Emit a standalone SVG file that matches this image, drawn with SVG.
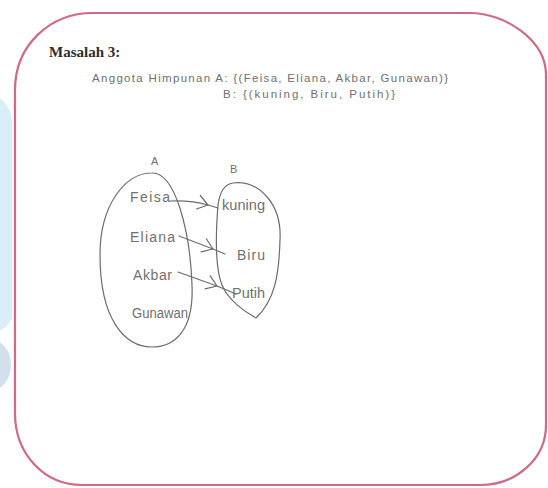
<svg xmlns="http://www.w3.org/2000/svg" width="548" height="488" viewBox="0 0 548 488">
<style>
.hw{font-family:"Liberation Sans","DejaVu Sans",sans-serif;fill:#707070;}
.lbl{font-size:14px;}
.sk{fill:none;stroke:#6c6c6c;stroke-width:1.2;stroke-linecap:round;stroke-linejoin:round;}
.title{font-family:"Liberation Serif","Times New Roman",serif;font-weight:bold;font-size:15px;fill:#2e2e2e;}
</style>
<defs>
<marker id="chev" markerUnits="userSpaceOnUse" markerWidth="24" markerHeight="24" refX="0" refY="0" orient="auto" overflow="visible" viewBox="-12 -10 24 20">
<path d="M-10,-7 L0,0 L-10,7" fill="none" stroke="#6c6c6c" stroke-width="1.2" stroke-linecap="round" stroke-linejoin="round"/>
</marker>
</defs>
<rect width="548" height="488" fill="#ffffff"/>
<g id="watermark">
<path d="M0,98 Q9,104 12,120 L12,318 Q7,328 0,330 Z" fill="#d9eef9"/>
<path d="M0,342 Q11,350 11,365 Q11,380 0,388 Z" fill="#d3dfea"/>
</g>
<g id="frame">
<path d="M93,13 L470,13 C505,13 546,40 546,75 L546,425 C546,460 515,485 480,485 L82,485 C45,485 15,455 15,413 L15,90 C15,45 50,13 93,13 Z" fill="none" stroke="#d06a86" stroke-width="2.2"/>
</g>
<g id="title"><text class="title" x="49" y="57">Masalah 3:</text></g>
<g id="sets">
<text class="hw" font-size="11.5" x="92" y="82" textLength="356" lengthAdjust="spacing">Anggota Himpunan A: {(Feisa, Eliana, Akbar, Gunawan)}</text>
<text class="hw" font-size="11.5" x="223" y="98" textLength="172" lengthAdjust="spacing">B: {(kuning, Biru, Putih)}</text>
</g>
<g id="setA">
<text class="hw" font-size="11" x="151" y="165">A</text>
<path class="sk" d="M152,173 C175,172 190,230 192,285 C194,330 175,347 152,347 C125,347 100,320 100,255 C100,205 125,173 152,173 Z"/>
</g>
<g id="setB">
<text class="hw" font-size="11" x="230" y="173">B</text>
<path class="sk" d="M233,183 C260,180 282,205 280,240 C279,275 275,300 256,318 C245,312 228,300 222,285 C214,265 216,230 218,205 C220,190 226,184 233,183 Z"/>
</g>
<g id="a-feisa"><text class="hw lbl" x="130" y="202" textLength="40" lengthAdjust="spacing">Feisa</text></g>
<g id="a-eliana"><text class="hw lbl" x="130" y="242" textLength="45" lengthAdjust="spacing">Eliana</text></g>
<g id="a-akbar"><text class="hw lbl" x="133" y="280" textLength="39" lengthAdjust="spacing">Akbar</text></g>
<g id="a-gunawan"><text class="hw lbl" x="132" y="318" textLength="56" lengthAdjust="spacingAndGlyphs">Gunawan</text></g>
<g id="b-kuning"><text class="hw lbl" x="222" y="210" textLength="43" lengthAdjust="spacingAndGlyphs">kuning</text></g>
<g id="b-biru"><text class="hw lbl" x="237" y="260" textLength="28" lengthAdjust="spacing">Biru</text></g>
<g id="b-putih"><text class="hw lbl" x="232" y="298" textLength="33" lengthAdjust="spacingAndGlyphs">Putih</text></g>
<g id="connectors">
<path class="sk" d="M170,201 Q190,200 208,205 L218,208" marker-mid="url(#chev)"/>
<path class="sk" d="M179,236 L213,249 L225,254" marker-mid="url(#chev)"/>
<path class="sk" d="M178,272 L217,286 L236,294" marker-mid="url(#chev)"/>
</g>
</svg>
